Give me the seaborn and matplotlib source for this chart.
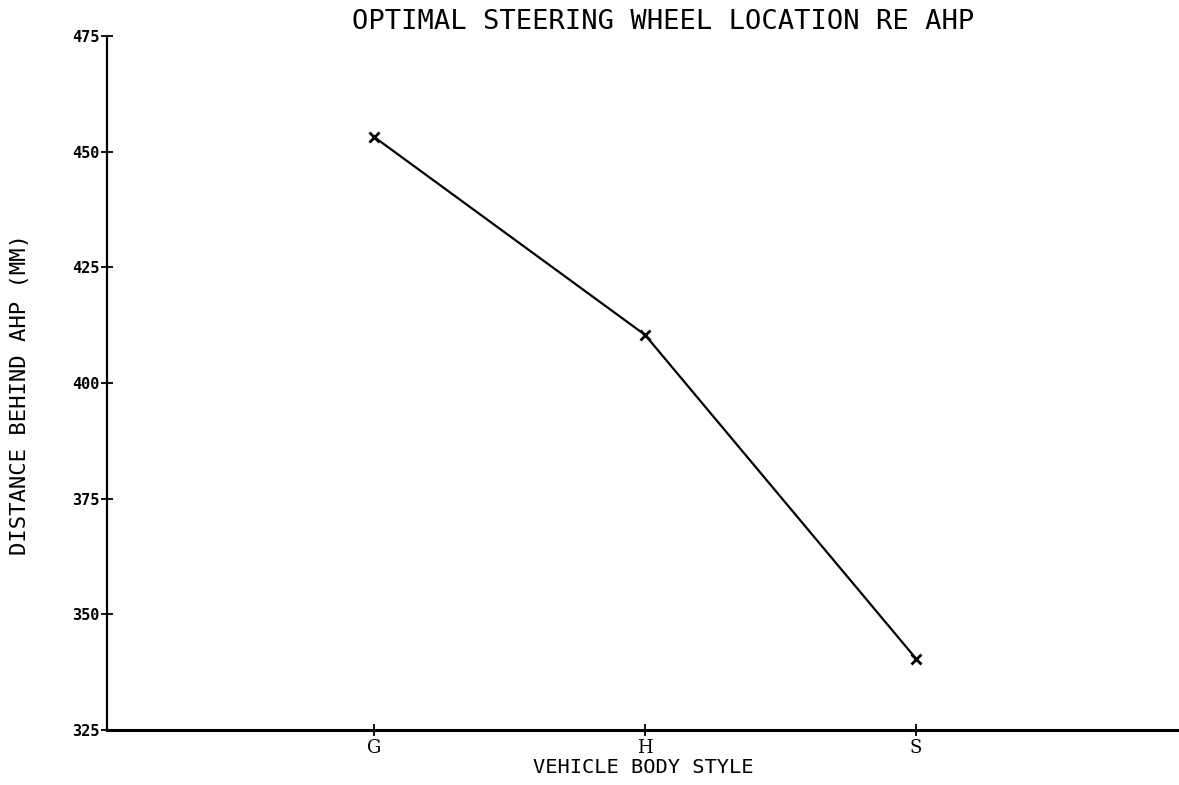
import matplotlib
matplotlib.use("Agg")
import matplotlib.pyplot as plt
import seaborn as sns
import pandas as pd

body_styles = ["G", "H", "S"]
distance_mm = [453.2, 410.4, 340.4]
y_ticks = [325, 350, 375, 400, 425, 450, 475]

sns.set_theme(style="white")
plt.rcParams["font.family"] = ["DejaVu Sans Mono", "DejaVu Sans"]
plt.rcParams["text.color"] = "black"
plt.rcParams["axes.labelcolor"] = "black"

df = pd.DataFrame({"style": body_styles, "distance": distance_mm})

fig = plt.figure(figsize=(11.79, 7.85), dpi=100)
ax = fig.add_axes([0.0908, 0.0701, 0.9092, 0.884])

sns.lineplot(data=df, x="style", y="distance", ax=ax, color="black",
             linewidth=1.6, marker="x", markersize=7, markeredgewidth=2,
             markeredgecolor="black", sort=False)

ax.set_xlim(-0.985, 2.97)
ax.set_ylim(325, 475)
ax.set_yticks(y_ticks)
ax.set_yticklabels([str(t) for t in y_ticks], fontsize=11, fontweight="bold")
ax.set_xticks(range(len(body_styles)))
ax.set_xticklabels(body_styles, fontsize=13, family="DejaVu Serif")

for side in ("top", "right"):
    ax.spines[side].set_visible(False)
ax.spines["left"].set_color("black")
ax.spines["left"].set_linewidth(1.6)
ax.spines["bottom"].set_color("black")
ax.spines["bottom"].set_linewidth(2.2)
ax.tick_params(axis="both", direction="inout", length=9, width=1.3,
               colors="black", left=True, bottom=True)
ax.tick_params(axis="y", pad=1)
ax.tick_params(axis="x", pad=2)

ax.set_xlabel("VEHICLE BODY STYLE", fontsize=14.7, labelpad=1)
ax.set_ylabel("DISTANCE BEHIND AHP (MM)", fontsize=16)
ax.yaxis.set_label_coords(-0.0718, 0.483)
fig.text(663 / 1179, 1 - 22 / 785, "OPTIMAL STEERING WHEEL LOCATION RE AHP",
         fontsize=19.5, ha="center", va="center", color="black")

fig.savefig("out.png", dpi=100)
